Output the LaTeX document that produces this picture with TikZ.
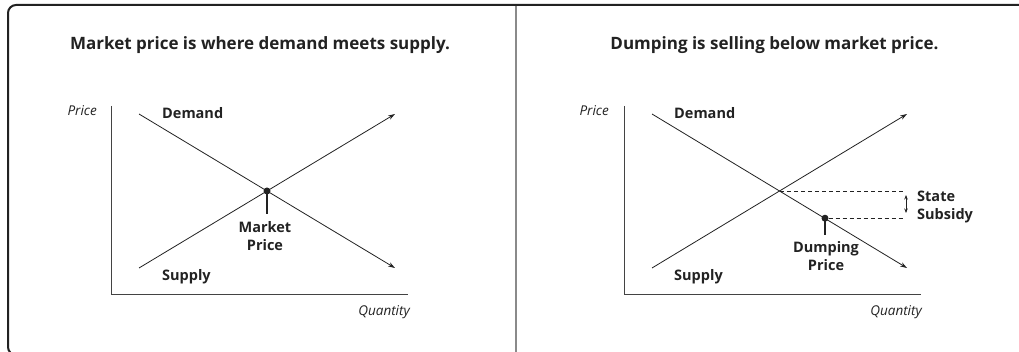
\documentclass[tikz,border=0pt]{standalone}
\usepackage{fontspec}
\setmainfont{Open Sans}
\usetikzlibrary{arrows.meta}
\definecolor{ink}{HTML}{222222}
\definecolor{divgray}{HTML}{8A8A8A}
\begin{document}
\begin{tikzpicture}[x=1pt,y=-1pt,
  titletext/.style={font=\fontsize{17}{20}\selectfont\bfseries, text=ink, inner sep=0pt, anchor=base},
  curvelabel/.style={font=\fontsize{14.5}{17}\selectfont\bfseries, text=ink, inner sep=0pt, anchor=base west},
  pointlabel/.style={font=\fontsize{14.5}{18}\selectfont\bfseries, text=ink, inner sep=0pt, align=center, anchor=north},
  axislabel/.style={font=\fontsize{13.5}{16}\selectfont\itshape, text=ink, inner sep=0pt},
  axisline/.style={draw=ink!85, line width=1pt},
  curveline/.style={draw=ink, line width=0.8pt, -{Stealth[length=7pt,width=4.5pt]}},
  dotmark/.style={circle, fill=ink, inner sep=0pt, minimum size=7pt},
  tickline/.style={draw=ink, line width=1.2pt},
  dashline/.style={draw=ink, line width=0.8pt, dash pattern=on 4pt off 3pt},
  subsidyarrow/.style={draw=ink, line width=0.8pt, {Stealth[length=4.5pt,width=3.5pt]}-{Stealth[length=4.5pt,width=3.5pt]}}
]
\useasboundingbox (0,0) rectangle (1019,352);
\fill[white] (0,0) rectangle (1019,352);
\begin{scope}
\clip (0,0) rectangle (1019,352);
\draw[ink, line width=2pt, rounded corners=8pt] (8,5) rectangle (1030,355);
\end{scope}
\coordinate (divtop) at (516,6);
\coordinate (divbot) at (516,352);
\draw[divgray, line width=1.3pt] (divtop) -- (divbot);

% ---------- left panel ----------
\node[titletext] (t1) at (260,49.3) {Market price is where demand meets supply.};
\coordinate (ya1) at (111,106);
\coordinate (o1) at (111,295);
\coordinate (xa1) at (408,295);
\draw[axisline] (ya1) -- (o1) -- (xa1);
\node[axislabel, anchor=base east] (p1) at (97,116) {Price};
\node[axislabel, anchor=base east] (q1) at (410,316) {Quantity};
\coordinate (d1s) at (139,114);
\coordinate (d1e) at (395,268);
\coordinate (s1s) at (139,268);
\coordinate (s1e) at (395,114);
\draw[curveline] (d1s) -- (d1e);
\draw[curveline] (s1s) -- (s1e);
\node[curvelabel] (dl1) at (162,118.3) {Demand};
\node[curvelabel] (sl1) at (162,280.7) {Supply};
\coordinate (mpt) at (267,214);
\node[dotmark] (mp) at (267,191) {};
\draw[tickline] (mp.center) -- (mpt);
\node[pointlabel] (mpl) at (265,221.5) {Market\\Price};

% ---------- right panel ----------
\node[titletext] (t2) at (774.5,49.3) {Dumping is selling below market price.};
\coordinate (ya2) at (624,106);
\coordinate (o2) at (624,295);
\coordinate (xa2) at (921,295);
\draw[axisline] (ya2) -- (o2) -- (xa2);
\node[axislabel, anchor=base east] (p2) at (609,116) {Price};
\node[axislabel, anchor=base east] (q2) at (922,316) {Quantity};
\coordinate (d2s) at (652,114);
\coordinate (d2e) at (907,268);
\coordinate (s2s) at (652,268);
\coordinate (s2e) at (907,114);
\draw[curveline] (d2s) -- (d2e);
\draw[curveline] (s2s) -- (s2e);
\node[curvelabel] (dl2) at (674,118.3) {Demand};
\node[curvelabel] (sl2) at (674,280.7) {Supply};
\coordinate (eq2) at (780,191);
\coordinate (eq2r) at (905,191);
\draw[dashline] (eq2) -- (eq2r);
\node[dotmark] (dp) at (825,218.2) {};
\coordinate (dpr) at (905,218.2);
\draw[dashline] (dp.east) -- (dpr);
\coordinate (dpt) at (825,235);
\draw[tickline] (dp.center) -- (dpt);
\node[pointlabel] (dpl) at (826,241.5) {Dumping\\Price};
\coordinate (sat) at (906,195);
\coordinate (sab) at (906,213);
\draw[subsidyarrow] (sat) -- (sab);
\node[pointlabel, anchor=north west, align=left] (ssl) at (917,190.5) {State\\Subsidy};
\end{tikzpicture}
\end{document}
